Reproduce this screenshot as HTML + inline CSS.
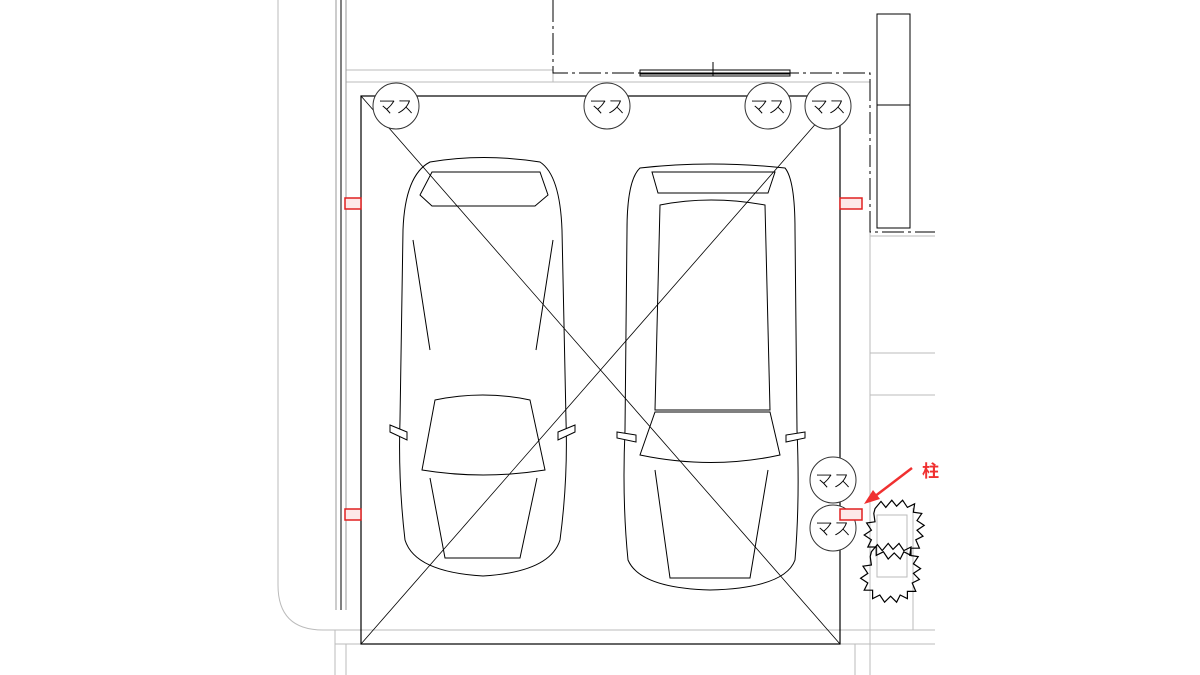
<!DOCTYPE html>
<html><head><meta charset="utf-8"><style>
html,body{margin:0;padding:0;background:#fff}
svg{display:block}
text{font-family:"Liberation Sans","Noto Sans CJK JP",sans-serif}
</style></head><body>
<svg width="1200" height="675" viewBox="0 0 1200 675" xmlns="http://www.w3.org/2000/svg">
<g fill="none" stroke="#bbb" stroke-width="1">
<path d="M278 0 V585 Q278 630 323 630 H935"/>
<line x1="346" y1="70" x2="553" y2="70"/>
<line x1="346" y1="82" x2="870" y2="82"/>
<line x1="553" y1="70" x2="553" y2="82"/>
<line x1="870" y1="230" x2="870" y2="675"/>
<line x1="870" y1="236" x2="935" y2="236"/>
<line x1="870" y1="353" x2="935" y2="353"/>
<line x1="870" y1="395" x2="935" y2="395"/>
<line x1="335" y1="644" x2="935" y2="644"/>
<line x1="335" y1="630" x2="335" y2="675"/>
<line x1="346" y1="644" x2="346" y2="675"/>
<line x1="855" y1="644" x2="855" y2="675"/>
<line x1="913" y1="508" x2="913" y2="630"/>
<rect x="877" y="515" width="30" height="62"/>
</g>
<g fill="none" stroke="#000" stroke-width="1">
<line x1="336" y1="0" x2="336" y2="610" stroke="#999"/>
<line x1="341" y1="0" x2="341" y2="610"/>
<line x1="346" y1="0" x2="346" y2="610" stroke="#999"/>
<path d="M553 0 V73 H870 V232 H935" stroke-dasharray="22 4 3 4"/>
<rect x="640" y="70" width="150" height="3"/>
<rect x="640" y="74" width="150" height="2"/>
<line x1="713" y1="62" x2="713" y2="76"/>
<rect x="877" y="14" width="33" height="214"/>
<line x1="877" y1="105" x2="910" y2="105"/>
<rect x="361" y="96" width="479" height="548" stroke-width="1.2"/>
</g>
<g fill="#fff" stroke="#000" stroke-width="1">
<path d="M430 162 Q483 153 540 162 Q560 175 562 230 L566 420 Q568 480 560 540 Q550 572 483 576 Q415 572 405 540 Q398 480 400 420 L403 230 Q405 175 430 162Z"/>
<path d="M432 172 H540 L548 195 L535 206 H432 L420 195Z"/>
<path d="M435 400 Q483 390 530 400 L545 470 Q483 480 422 470Z"/>
<path d="M430 478 L445 558 H520 L537 478"/>
<path d="M413 240 L430 350 M553 240 L536 350"/>
<path d="M390 425 L407 432 L407 440 L390 432Z M575 425 L558 432 L558 440 L575 432Z"/>
<path d="M640 168 Q710 160 785 168 Q795 180 795 230 L797 430 Q800 500 795 560 Q785 588 710 590 Q640 588 628 560 Q622 500 625 430 L627 230 Q627 180 640 168Z"/>
<path d="M652 172 H775 L768 193 H658Z"/>
<path d="M660 205 Q710 195 765 205 L770 410 H655Z"/>
<path d="M655 412 H770 L780 455 Q712 470 640 455Z"/>
<path d="M655 470 L670 578 H750 L768 470"/>
<path d="M617 432 L636 435 L636 442 L617 438Z M805 432 L786 435 L786 442 L805 438Z"/>
</g>
<line x1="361" y1="96" x2="840" y2="644" stroke="#000" stroke-width="0.8"/>
<line x1="840" y1="96" x2="361" y2="644" stroke="#000" stroke-width="0.8"/>
<g font-size="18" text-anchor="middle" style="font-family:'Noto Sans CJK JP',sans-serif;font-weight:300">
<g fill="#fff" stroke="#333" stroke-width="1">
<circle cx="396" cy="106" r="23"/><circle cx="607" cy="106" r="23"/><circle cx="768" cy="106" r="23"/><circle cx="828" cy="106" r="23"/><circle cx="833" cy="480" r="23"/><circle cx="833" cy="528" r="23"/>
</g>
<text x="396" y="113">マス</text><text x="607" y="113">マス</text><text x="768" y="113">マス</text><text x="828" y="113">マス</text><text x="833" y="487">マス</text><text x="833" y="535">マス</text>
</g>
<g fill="none" stroke="#000" stroke-width="1">
<g transform="translate(875 505) scale(1.2) translate(-875 -505)">
<path d="M875 508 l5 -6 l4 5 l5 -6 l4 5 l5 -5 l4 6 l6 -3 l-1 7 l7 1 l-4 6 l6 4 l-6 4 l5 5 l-6 3 l3 7 l-7 0 l0 6 l-6 -3 l-3 6 l-5 -5 l-5 5 l-4 -6 l-6 3 l0 -7 l-7 0 l3 -6 l-6 -4 l6 -4 l-4 -6 l7 -1 l-1 -7 z"/>
<path d="M872 544 l5 -6 l4 5 l5 -6 l4 5 l5 -5 l4 6 l6 -3 l-1 7 l7 1 l-4 6 l6 4 l-6 4 l5 5 l-6 3 l3 7 l-7 0 l0 6 l-6 -3 l-3 6 l-5 -5 l-5 5 l-4 -6 l-6 3 l0 -7 l-7 0 l3 -6 l-6 -4 l6 -4 l-4 -6 l7 -1 l-1 -7 z"/>
</g>
</g>
<g fill="#fde8e8" stroke="#e02020" stroke-width="1.5">
<rect x="345" y="198" width="16" height="11"/>
<rect x="840" y="198" width="22" height="11"/>
<rect x="345" y="509" width="16" height="11"/>
<rect x="840" y="509" width="22" height="11"/>
</g>
<line x1="912" y1="468" x2="870" y2="500" stroke="#f03030" stroke-width="2.5"/>
<path d="M864 504 L880 499 L873 490Z" fill="#f03030"/>
<text x="922" y="477" font-size="17" font-weight="bold" fill="#f03030">柱</text>
</svg>
</body></html>
